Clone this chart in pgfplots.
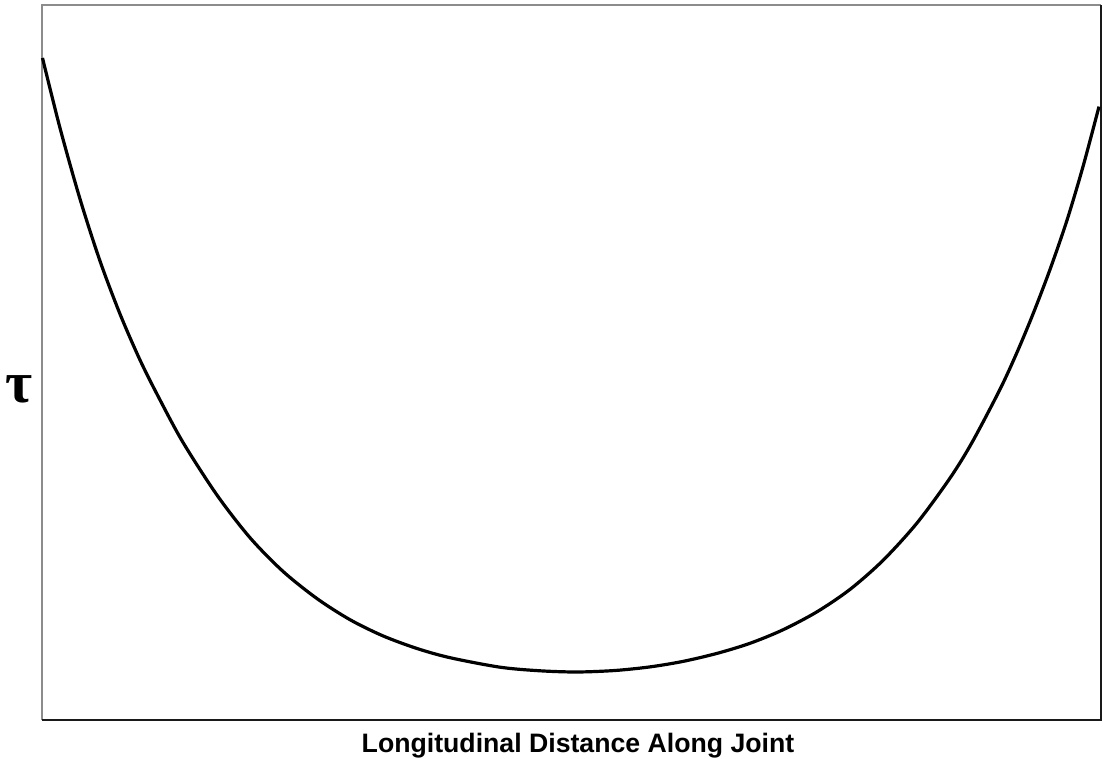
\documentclass[border=0pt]{standalone}
\usepackage{pgfplots}
\pgfplotsset{compat=1.18}
\usepackage{fontspec}
\setmainfont{Liberation Sans}
\newfontfamily\greekserif{Liberation Serif}

\begin{document}
\begin{tikzpicture}[x=1pt,y=1pt]
\begin{axis}[
  scale only axis,
  width=794.25pt, height=536.25pt,
  xmin=42, xmax=1101, ymin=0, ymax=715,
  axis line style={draw=none},
  ticks=none,
  clip=false,
]
% frame: light left/top edges, dark bottom/right edges
\draw[gray!90, line width=0.9pt] (axis cs:42,0) -- (axis cs:42,715) -- (axis cs:1101,715);
\draw[black!90, line width=0.9pt] (axis cs:42,0) -- (axis cs:1101,0) -- (axis cs:1101,715);

% shear stress along the joint
\addplot[black, line width=2.4pt, smooth, tension=0.5] coordinates {
  (42.5,662) (60,592) (80,521) (100,459) (120,406) (140,360) (159,322)
  (183,277.6) (217,224.9) (250,182.3) (283,148.6) (317,121.4) (350,100.3)
  (383,84.1) (417,71.5) (450,62.3) (500,52.8) (540,49.2) (577,48)
  (615,49.5) (650,53.1) (683,58.6) (717,66.6) (750,76.7) (783,90.2)
  (817,108.2) (850,130.6) (883,159.6) (917,197) (950,241.9) (972,277.5)
  (1000,330.7) (1017,367.6) (1033,406) (1050,450.5) (1067,499.8)
  (1083,553.4) (1099,613.4)
};

\node[anchor=base] at (axis cs:578,-33)
  {\fontsize{20}{22}\selectfont\bfseries Longitudinal Distance Along Joint};
\node at (axis cs:19,331) {\greekserif\fontsize{44}{44}\selectfont\bfseries τ};
\end{axis}
\pgfresetboundingbox
\path[use as bounding box] (current axis.south west) ++(-31.5pt,-29.25pt) rectangle ++(827.25pt,569.25pt);
\end{tikzpicture}
\end{document}
